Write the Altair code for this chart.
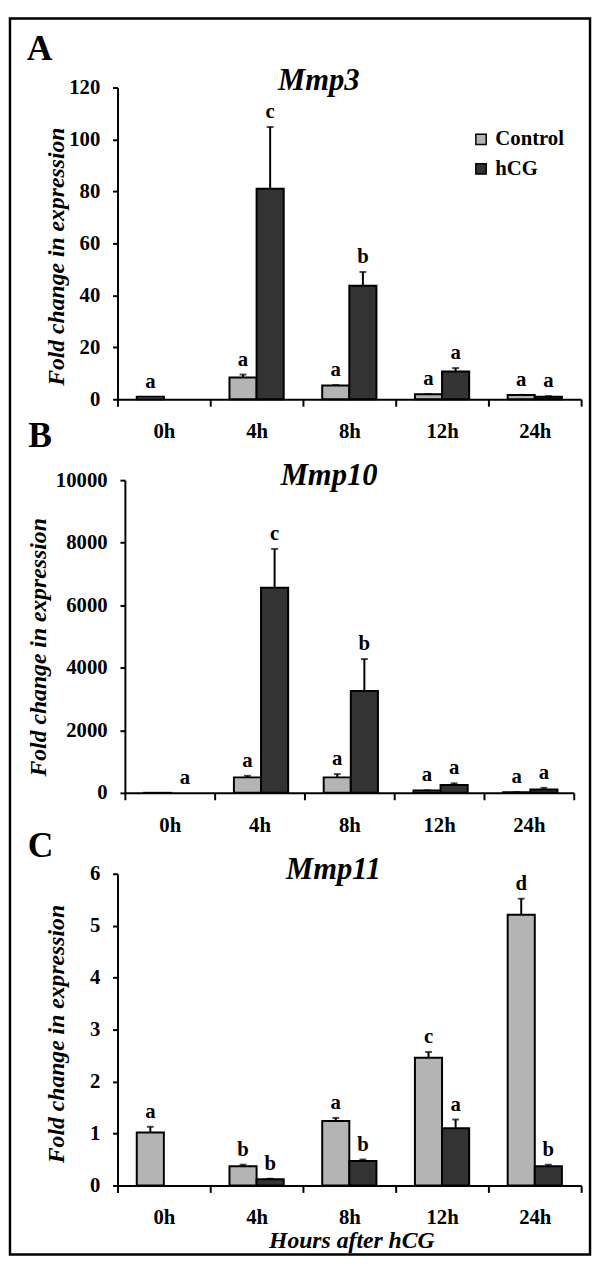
import altair as alt
import pandas as pd

times = ["0h", "4h", "8h", "12h", "24h"]
groups = ["Control", "hCG"]

# Panel A: Mmp3
a_ctrl = [1.0, 8.4, 5.3, 1.9, 1.6]
a_ctrl_err = [0.0, 1.1, 0.2, 0.1, 0.1]
a_hcg = [None, 81.0, 43.7, 10.7, 1.0]
a_hcg_err = [None, 23.8, 5.3, 1.3, 0.2]
a_let_ctrl = ["a", "a", "a", "a", "a"]
a_let_hcg = ["", "c", "b", "a", "a"]

# Panel B: Mmp10
b_ctrl = [1.0, 495, 495, 73, 20]
b_ctrl_err = [0.0, 50, 105, 10, 5]
b_hcg = [None, 6560, 3260, 250, 105]
b_hcg_err = [None, 1240, 1020, 55, 55]
b_let_ctrl = ["", "a", "a", "a", "a"]
b_let_hcg = ["a", "c", "b", "a", "a"]

# Panel C: Mmp11
c_ctrl = [1.02, 0.37, 1.24, 2.46, 5.21]
c_ctrl_err = [0.11, 0.03, 0.06, 0.11, 0.31]
c_hcg = [None, 0.12, 0.47, 1.10, 0.37]
c_hcg_err = [None, 0.01, 0.03, 0.17, 0.03]
c_let_ctrl = ["a", "b", "a", "c", "d"]
c_let_hcg = ["", "b", "b", "a", "b"]

SERIF = "Liberation Serif"
colors = ["#b4b4b4", "#333333"]


def tables(ctrl, ctrl_err, hcg, hcg_err, let_ctrl, let_hcg):
    bars, lets = [], []
    for i, t in enumerate(times):
        for g, v, e, l in (("Control", ctrl[i], ctrl_err[i], let_ctrl[i]),
                           ("hCG", hcg[i], hcg_err[i], let_hcg[i])):
            if v is not None:
                bars.append({"time": t, "group": g, "value": v, "top": v + e, "err": e})
            if l:
                lets.append({"time": t, "group": g, "letter": l,
                             "pos": (v + e) if v is not None else 0})
    return pd.DataFrame(bars), pd.DataFrame(lets)


def panel(ctrl, ctrl_err, hcg, hcg_err, let_ctrl, let_hcg, title, tx, ty,
          ymax, ystep, width, height, ytx, yty, plabel, plx, ply,
          show_legend=False, xtitle=None, frame=False):
    bars, lets = tables(ctrl, ctrl_err, hcg, hcg_err, let_ctrl, let_hcg)
    xaxis = alt.Axis(tickBand="extent", labelAngle=0, tickSize=7, labelPadding=15,
                     title=xtitle if xtitle else "",
                     titleFont=SERIF, titleFontSize=24, titleFontWeight="bold",
                     titleFontStyle="italic", titleColor="black",
                     titleX=width / 2 + 2, titleY=56, titleBaseline="middle")
    x = alt.X("time:N", sort=times, scale=alt.Scale(paddingInner=0, paddingOuter=0),
              axis=xaxis)
    xo = alt.XOffset("group:N", sort=groups,
                     scale=alt.Scale(domain=groups, paddingInner=0, paddingOuter=0.71))
    y = alt.Y("value:Q", scale=alt.Scale(domain=[0, ymax], nice=False),
              axis=alt.Axis(values=list(range(0, ymax + 1, ystep)), format="d",
                            tickSize=5, labelPadding=13,
                            title="Fold change in expression",
                            titleFont=SERIF, titleFontSize=24, titleFontWeight="bold",
                            titleFontStyle="italic", titleColor="black",
                            titleX=ytx, titleY=yty, titleBaseline="middle",
                            titleAngle=270))
    if show_legend:
        legend = alt.Legend(title=None, orient="none", legendX=358, legendY=42,
                            symbolType="square", symbolSize=110,
                            symbolStrokeColor="black", symbolStrokeWidth=1.5,
                            labelFont=SERIF, labelFontSize=21, labelFontWeight="bold",
                            labelColor="black", rowPadding=8, labelOffset=4)
    else:
        legend = None
    color = alt.Color("group:N", scale=alt.Scale(domain=groups, range=colors),
                      legend=legend)
    base = alt.Chart(bars)
    bar_layer = base.mark_bar(stroke="black", strokeWidth=2).encode(
        x=x, xOffset=xo, y=y, color=color)
    errs = base.transform_filter("datum.err > 0")
    rule_layer = errs.mark_rule(color="black", strokeWidth=2).encode(
        x=alt.X("time:N", sort=times), xOffset=alt.XOffset("group:N", sort=groups),
        y="value:Q", y2="top:Q")
    cap_layer = errs.mark_tick(color="black", thickness=2, size=7,
                               orient="horizontal").encode(
        x=alt.X("time:N", sort=times), xOffset=alt.XOffset("group:N", sort=groups),
        y="top:Q")
    let_layer = alt.Chart(lets).mark_text(font=SERIF, fontSize=21, fontWeight="bold",
                                          color="black", baseline="alphabetic",
                                          dy=-9).encode(
        x=alt.X("time:N", sort=times), xOffset=alt.XOffset("group:N", sort=groups),
        y="pos:Q", text="letter:N")
    plab = alt.Chart(pd.DataFrame({"t": [plabel]})).mark_text(
        font=SERIF, fontSize=36, fontWeight="bold", color="black", align="left",
        baseline="alphabetic").encode(text="t:N", x=alt.value(plx), y=alt.value(ply))
    ttl = alt.Chart(pd.DataFrame({"t": [title]})).mark_text(
        font=SERIF, fontSize=31, fontWeight="bold", fontStyle="italic", color="black",
        align="center", baseline="alphabetic").encode(
        text="t:N", x=alt.value(tx), y=alt.value(ty))
    layers = [bar_layer, rule_layer, cap_layer, let_layer, plab, ttl]
    if frame:
        fr = alt.Chart(pd.DataFrame({"f": [0]})).mark_rect(
            fillOpacity=0, stroke="black", strokeWidth=2.5, clip=False).encode(
            x=alt.value(-109), x2=alt.value(479), y=alt.value(-70), y2=alt.value(1183))
        layers.append(fr)
    return alt.layer(*layers).properties(width=width, height=height)


pa = panel(a_ctrl, a_ctrl_err, a_hcg, a_hcg_err, a_let_ctrl, a_let_hcg, "Mmp3", 204, 3,
           120, 20, 470, 316, -62, 171, "A", -92, -28, show_legend=True, frame=True)
pb = panel(b_ctrl, b_ctrl_err, b_hcg, b_hcg_err, b_let_ctrl, b_let_hcg, "Mmp10", 207, 5,
           10000, 2000, 455, 317, -87, 169, "B", -98, -34)
pc = panel(c_ctrl, c_ctrl_err, c_hcg, c_hcg_err, c_let_ctrl, c_let_hcg, "Mmp11", 219, 5,
           6, 1, 470, 316, -62, 162, "C", -91, -17, xtitle="Hours after hCG")

chart = alt.vconcat(pa, pb, pc, spacing=82, bounds="flush", center=True).resolve_legend(
    color="independent").properties(padding=0).configure_view(strokeWidth=0).configure_axis(
    domainColor="black", domainWidth=2, tickColor="black", tickWidth=2,
    labelFont=SERIF, labelFontSize=21, labelFontWeight="bold", labelColor="black",
    grid=False)

chart.save("out.html", embed_options={"renderer": "svg", "actions": False})
